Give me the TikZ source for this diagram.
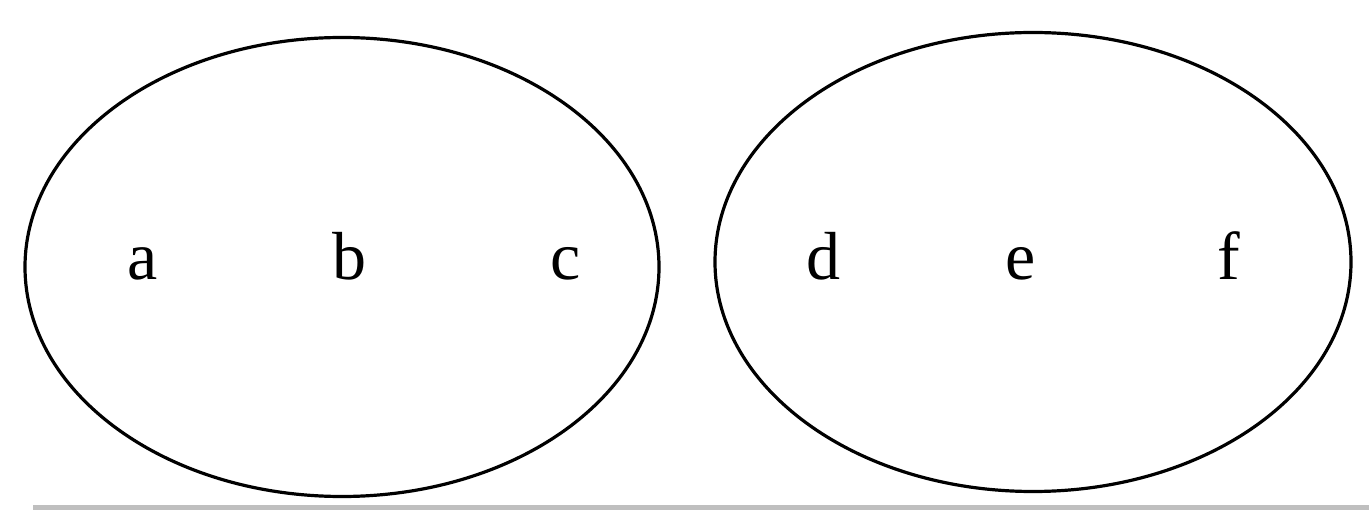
\documentclass[tikz,border=0pt]{standalone}
\usepackage{fontspec}
\setmainfont{Liberation Serif}
\usetikzlibrary{shapes.geometric}

\tikzset{
  setbox/.style={draw, ellipse, line width=3.2pt, inner sep=0pt},
  elem/.style={anchor=base, inner sep=0pt, font=\fontsize{68}{80}\selectfont}
}

\begin{document}
\begin{tikzpicture}[x=1pt, y=-1pt]
    \useasboundingbox (0,0) rectangle (1369,510);
    \fill[black!25] (33,505) rectangle (1369,510);
    \node[setbox, minimum width=634pt, minimum height=459pt] (left) at (342,267) {};
    \node[setbox, minimum width=636pt, minimum height=459pt] (right) at (1033,262) {};
    \node[elem] (a) at (143,280) {a};
    \node[elem] (b) at (349,280) {b};
    \node[elem] (c) at (566,280) {c};
    \node[elem] (d) at (823,280) {d};
    \node[elem] (e) at (1021,280) {e};
    \node[elem] (f) at (1229,280) {f};
\end{tikzpicture}
\end{document}
